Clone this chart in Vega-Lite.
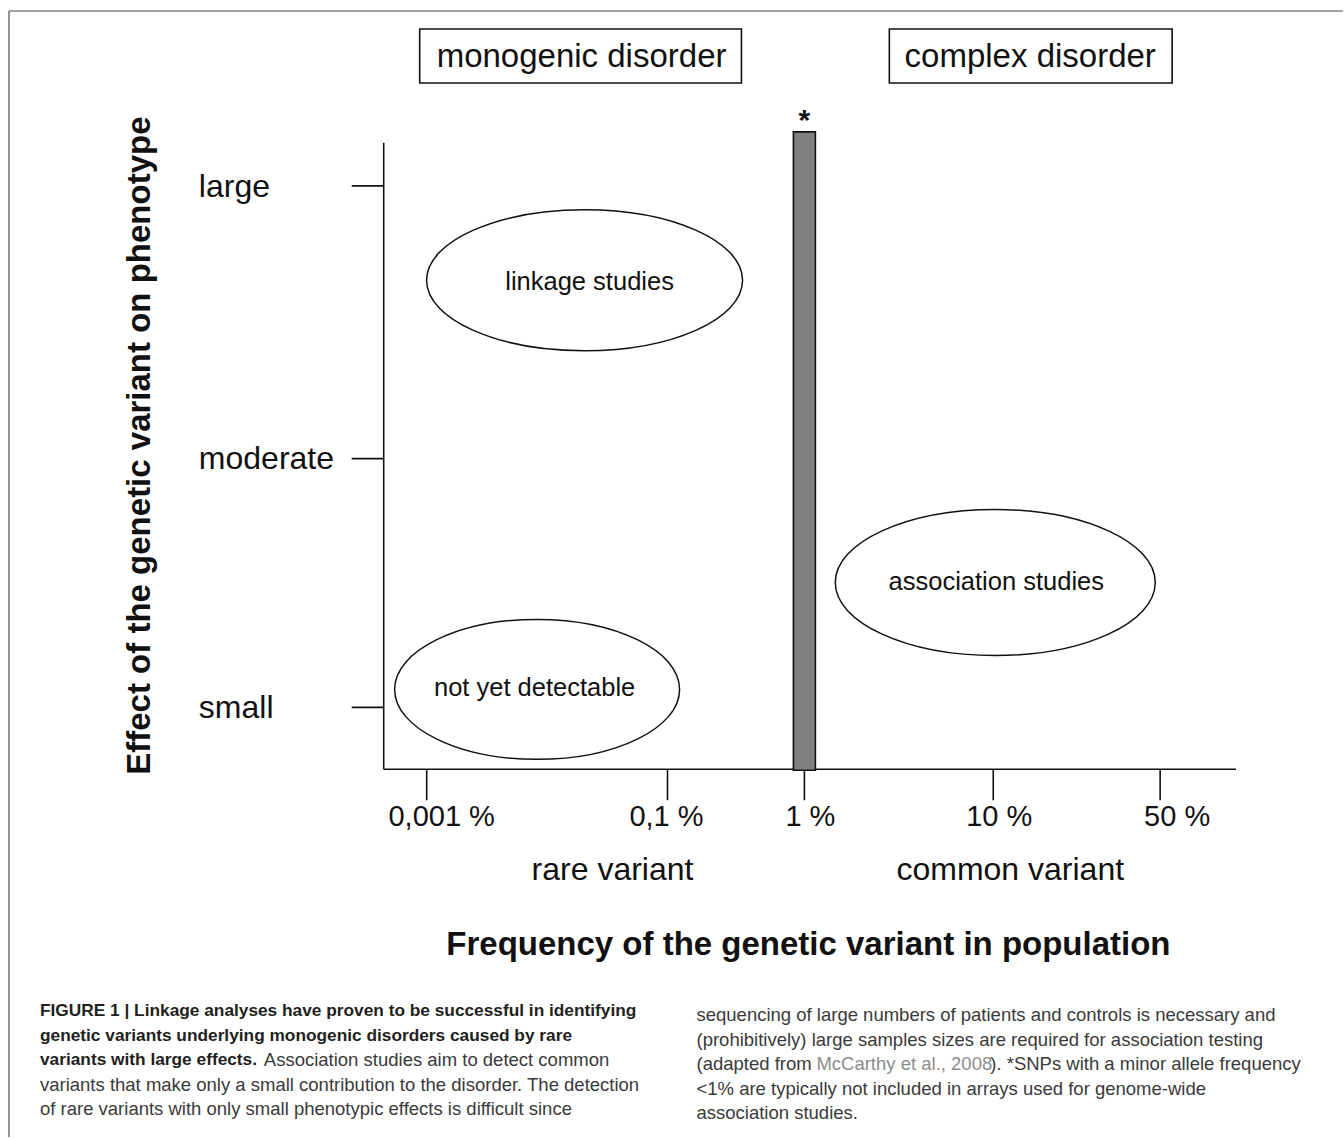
{
  "$schema": "https://vega.github.io/schema/vega-lite/v6.json",
  "width": 1344,
  "height": 1138,
  "autosize": {"type": "fit", "contains": "padding"},
  "padding": 0,
  "background": "white",
  "config": {"view": {"stroke": null}, "text": {"font": "Liberation Sans"}},
  "datasets": {
    "rules": [
      {"part": "frame", "x": 9, "y": 11, "x2": 1344, "y2": 11},
      {"part": "frame", "x": 9, "y": 11, "x2": 9, "y2": 1138},
      {"part": "axis", "x": 384, "y": 143, "x2": 384, "y2": 770},
      {"part": "axis", "x": 384, "y": 770, "x2": 1237, "y2": 770},
      {"part": "axis", "x": 352, "y": 186, "x2": 384, "y2": 186},
      {"part": "axis", "x": 352, "y": 459, "x2": 384, "y2": 459},
      {"part": "axis", "x": 352, "y": 708, "x2": 384, "y2": 708},
      {"part": "axis", "x": 427, "y": 770, "x2": 427, "y2": 801},
      {"part": "axis", "x": 668, "y": 770, "x2": 668, "y2": 801},
      {"part": "axis", "x": 805, "y": 771, "x2": 805, "y2": 801},
      {"part": "axis", "x": 994, "y": 770, "x2": 994, "y2": 801},
      {"part": "axis", "x": 1161, "y": 770, "x2": 1161, "y2": 801}
    ],
    "boxes": [
      {"label": "monogenic disorder", "x": 420, "x2": 742, "y": 29, "y2": 83, "tx": 582, "ty": 57},
      {"label": "complex disorder", "x": 890, "x2": 1173, "y": 29, "y2": 83, "tx": 1031, "ty": 57}
    ],
    "bar": [
      {"label": "SNP array threshold (1 %)", "x": 794, "x2": 816, "y": 132, "y2": 771, "tx": 805, "ty": 121}
    ],
    "studies": [
      {"name": "linkage studies", "x": 585, "y": 280.5, "span": 316, "tx": 590, "ty": 282},
      {"name": "association studies", "x": 996, "y": 583, "span": 320, "tx": 997, "ty": 583},
      {"name": "not yet detectable", "x": 537.5, "y": 690, "span": 285, "tx": 535, "ty": 689}
    ],
    "effect": [
      {"label": "large", "x": 199, "y": 187},
      {"label": "moderate", "x": 199, "y": 459},
      {"label": "small", "x": 199, "y": 709}
    ],
    "freq": [
      {"label": "0,001 %", "x": 442, "y": 818},
      {"label": "0,1 %", "x": 667, "y": 818},
      {"label": "1 %", "x": 811, "y": 818},
      {"label": "10 %", "x": 1000, "y": 818},
      {"label": "50 %", "x": 1178, "y": 818}
    ],
    "variant": [
      {"label": "rare variant", "x": 613, "y": 871},
      {"label": "common variant", "x": 1011, "y": 871}
    ],
    "caption": [
      {"style": "bold", "x": 40, "y": 1012, "text": "FIGURE 1 | Linkage analyses have proven to be successful in identifying"},
      {"style": "bold", "x": 40, "y": 1037, "text": "genetic variants underlying monogenic disorders caused by rare"},
      {"style": "bold", "x": 40, "y": 1061, "text": "variants with large effects."},
      {"style": "regular", "x": 264, "y": 1061, "text": "Association studies aim to detect common"},
      {"style": "regular", "x": 40, "y": 1086, "text": "variants that make only a small contribution to the disorder. The detection"},
      {"style": "regular", "x": 40, "y": 1110, "text": "of rare variants with only small phenotypic effects is difficult since"},
      {"style": "regular", "x": 697, "y": 1016, "text": "sequencing of large numbers of patients and controls is necessary and"},
      {"style": "regular", "x": 697, "y": 1041, "text": "(prohibitively) large samples sizes are required for association testing"},
      {"style": "regular", "x": 697, "y": 1065, "text": "(adapted from"},
      {"style": "link", "x": 817, "y": 1065, "text": "McCarthy et al., 2008"},
      {"style": "regular", "x": 991, "y": 1065, "text": "). *SNPs with a minor allele frequency"},
      {"style": "regular", "x": 697, "y": 1090, "text": "<1% are typically not included in arrays used for genome-wide"},
      {"style": "regular", "x": 697, "y": 1114, "text": "association studies."}
    ]
  },
  "encoding": {
    "x": {"field": "x", "type": "quantitative", "scale": {"domain": [0, 1344], "nice": false, "zero": false}, "axis": null},
    "y": {"field": "y", "type": "quantitative", "scale": {"domain": [0, 1138], "nice": false, "zero": false, "reverse": true}, "axis": null}
  },
  "layer": [
    {
      "data": {"name": "rules"},
      "transform": [{"filter": "datum.part === 'frame'"}],
      "mark": {"type": "rule", "color": "#4a4a4a", "strokeWidth": 1.2},
      "encoding": {"x2": {"field": "x2"}, "y2": {"field": "y2"}}
    },
    {
      "data": {"name": "rules"},
      "transform": [{"filter": "datum.part === 'axis'"}],
      "mark": {"type": "rule", "color": "#111111", "strokeWidth": 1.6},
      "encoding": {"x2": {"field": "x2"}, "y2": {"field": "y2"}}
    },
    {
      "data": {"name": "boxes"},
      "mark": {"type": "rect", "fill": "white", "stroke": "#111111", "strokeWidth": 1.6},
      "encoding": {"x2": {"field": "x2"}, "y2": {"field": "y2"}}
    },
    {
      "data": {"name": "boxes"},
      "mark": {"type": "text", "fontSize": 33, "align": "center", "baseline": "middle", "color": "#111111"},
      "encoding": {"x": {"field": "tx", "type": "quantitative"}, "y": {"field": "ty", "type": "quantitative"}, "text": {"field": "label"}}
    },
    {
      "data": {"name": "bar"},
      "mark": {"type": "rect", "fill": "#808080", "stroke": "#111111", "strokeWidth": 1.6},
      "encoding": {"x2": {"field": "x2"}, "y2": {"field": "y2"}}
    },
    {
      "data": {"name": "bar"},
      "mark": {"type": "text", "text": "*", "fontSize": 30, "fontWeight": "bold", "align": "center", "baseline": "middle", "color": "#111111"},
      "encoding": {"x": {"field": "tx", "type": "quantitative"}, "y": {"field": "ty", "type": "quantitative"}}
    },
    {
      "data": {"name": "studies"},
      "mark": {"type": "point", "filled": false, "stroke": "#111111", "strokeWidth": 1.5, "opacity": 1},
      "encoding": {
        "shape": {
          "field": "name", "type": "nominal", "legend": null,
          "scale": {
            "domain": ["linkage studies", "association studies", "not yet detectable"],
            "range": [
              "M -1 0 A 1 0.446 0 1 1 1 0 A 1 0.446 0 1 1 -1 0 Z",
              "M -1 0 A 1 0.456 0 1 1 1 0 A 1 0.456 0 1 1 -1 0 Z",
              "M -1 0 A 1 0.491 0 1 1 1 0 A 1 0.491 0 1 1 -1 0 Z"
            ]
          }
        },
        "size": {"field": "span", "type": "quantitative", "legend": null, "scale": {"type": "pow", "exponent": 2, "domain": [0, 1000], "range": [0, 1000000]}}
      }
    },
    {
      "data": {"name": "studies"},
      "mark": {"type": "text", "fontSize": 25.5, "align": "center", "baseline": "middle", "color": "#111111"},
      "encoding": {"x": {"field": "tx", "type": "quantitative"}, "y": {"field": "ty", "type": "quantitative"}, "text": {"field": "name"}}
    },
    {
      "data": {"name": "effect"},
      "mark": {"type": "text", "fontSize": 32, "align": "left", "baseline": "middle", "color": "#111111"},
      "encoding": {"text": {"field": "label"}}
    },
    {
      "data": {"name": "freq"},
      "mark": {"type": "text", "fontSize": 29, "align": "center", "baseline": "middle", "color": "#111111"},
      "encoding": {"text": {"field": "label"}}
    },
    {
      "data": {"name": "variant"},
      "mark": {"type": "text", "fontSize": 32, "align": "center", "baseline": "middle", "color": "#111111"},
      "encoding": {"text": {"field": "label"}}
    },
    {
      "data": {"values": [{"label": "Frequency of the genetic variant in population", "x": 809, "y": 946}]},
      "mark": {"type": "text", "fontSize": 33, "fontWeight": "bold", "align": "center", "baseline": "middle", "color": "#111111"},
      "encoding": {"text": {"field": "label"}}
    },
    {
      "data": {"values": [{"label": "Effect of the genetic variant on phenotype", "x": 140, "y": 446}]},
      "mark": {"type": "text", "fontSize": 33, "fontWeight": "bold", "angle": 270, "align": "center", "baseline": "middle", "color": "#111111"},
      "encoding": {"text": {"field": "label"}}
    },
    {
      "data": {"name": "caption"},
      "transform": [{"filter": "datum.style === 'bold'"}],
      "mark": {"type": "text", "fontSize": 17.3, "fontWeight": "bold", "align": "left", "baseline": "middle", "color": "#231f20"},
      "encoding": {"text": {"field": "text"}}
    },
    {
      "data": {"name": "caption"},
      "transform": [{"filter": "datum.style === 'regular'"}],
      "mark": {"type": "text", "fontSize": 18.5, "align": "left", "baseline": "middle", "color": "#3a3a3a"},
      "encoding": {"text": {"field": "text"}}
    },
    {
      "data": {"name": "caption"},
      "transform": [{"filter": "datum.style === 'link'"}],
      "mark": {"type": "text", "fontSize": 18.5, "align": "left", "baseline": "middle", "color": "#8c8c8c"},
      "encoding": {"text": {"field": "text"}}
    }
  ]
}
